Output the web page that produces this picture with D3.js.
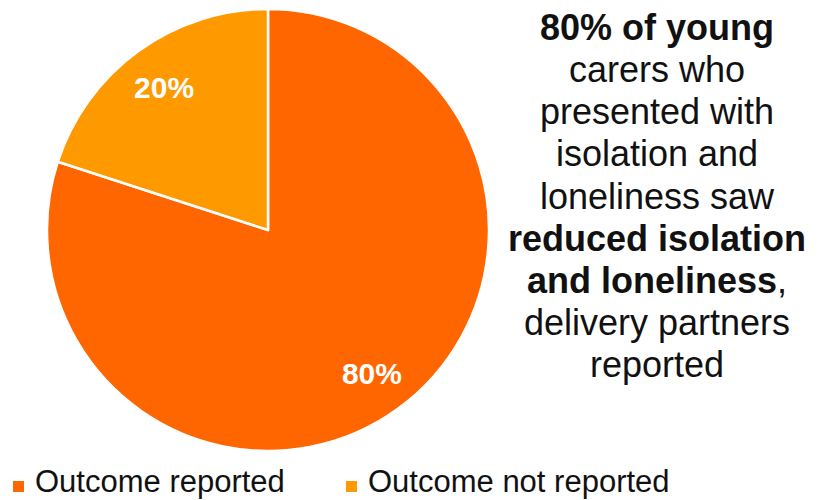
<!DOCTYPE html>
<html>
<head>
<meta charset="utf-8">
<script src="https://cdn.jsdelivr.net/npm/d3@7"></script>
<style>
  html, body { margin: 0; padding: 0; background: #fff; }
  svg { display: block; font-family: "Liberation Sans", Arial, sans-serif; }
</style>
</head>
<body>
<svg id="chart" width="818" height="500"></svg>
<script>
// Outcome split for young carers presenting with isolation and loneliness
const categories = ["Outcome reported", "Outcome not reported"];
const values = [80, 20];
const colors = ["#FF6600", "#FF9900"];

// Side note, one entry per line; each line is a list of [text, bold] runs
const noteLines = [
  [["80% of young", true]],
  [["carers who", false]],
  [["presented with", false]],
  [["isolation and", false]],
  [["loneliness saw", false]],
  [["reduced isolation", true]],
  [["and loneliness", true], [",", false]],
  [["delivery partners", false]],
  [["reported", false]]
];

const svg = d3.select("#chart");
const cx = 268, cy = 230, R = 221;

const pie = d3.pie().sort(null).value(d => d.value);
const arcs = pie(categories.map((c, i) => ({ name: c, value: values[i] })));

const arc = d3.arc().innerRadius(0).outerRadius(R);
const labelArc = d3.arc().innerRadius(R * 0.8).outerRadius(R * 0.8);

const g = svg.append("g").attr("transform", `translate(${cx},${cy})`);

g.selectAll("path.slice")
  .data(arcs)
  .join("path")
  .attr("class", "slice")
  .attr("d", arc)
  .attr("fill", (d, i) => colors[i])
  .attr("stroke", "#fff")
  .attr("stroke-width", 2.5)
  .attr("stroke-linejoin", "round");

g.selectAll("text.pct")
  .data(arcs)
  .join("text")
  .attr("class", "pct")
  .attr("transform", d => {
    const [x, y] = labelArc.centroid(d);
    return `translate(${x},${y})`;
  })
  .attr("text-anchor", "middle")
  .attr("dy", "0.36em")
  .attr("fill", "#fff")
  .attr("font-weight", "bold")
  .attr("font-size", 30)
  .text(d => d.data.value + "%");

// Side note
const note = svg.append("text")
  .attr("text-anchor", "middle")
  .attr("font-size", 36)
  .attr("fill", "#111");
const lineY = d3.scaleLinear().domain([0, noteLines.length - 1]).range([40, 377]);
noteLines.forEach((runs, i) => {
  const t = note.append("tspan").attr("x", 657).attr("y", lineY(i));
  runs.forEach(([txt, bold], j) => {
    const s = j === 0 ? t : note.append("tspan");
    s.attr("font-weight", bold ? "bold" : "normal").text(txt);
  });
});

// Legend
const legendX = [13, 346];
const legend = svg.append("g");
categories.forEach((c, i) => {
  legend.append("rect")
    .attr("x", legendX[i]).attr("y", 481)
    .attr("width", 11).attr("height", 11)
    .attr("fill", colors[i]);
  legend.append("text")
    .attr("x", legendX[i] + 22).attr("y", 492)
    .attr("font-size", 31)
    .attr("fill", "#111")
    .text(c);
});
</script>
</body>
</html>
